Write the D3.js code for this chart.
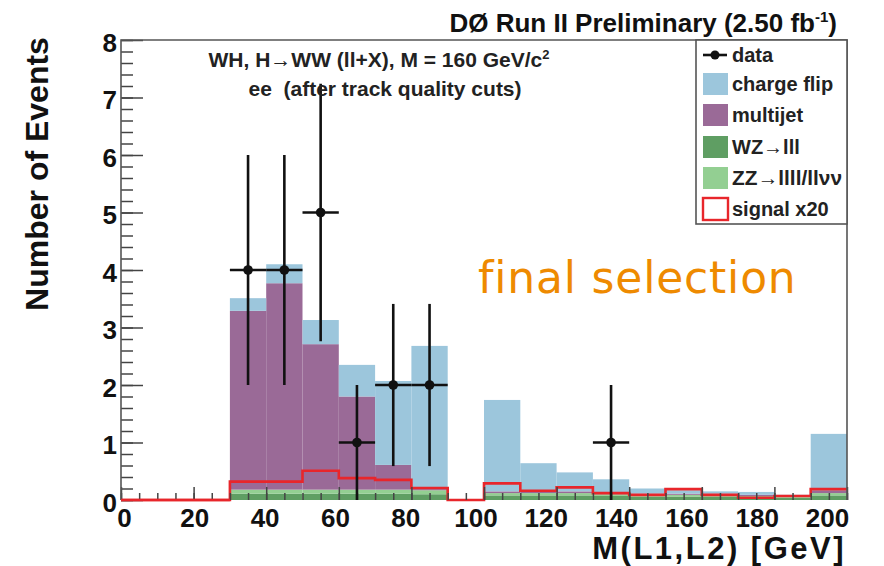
<!DOCTYPE html>
<html>
<head>
<meta charset="utf-8">
<script src="https://cdn.jsdelivr.net/npm/d3@7/dist/d3.min.js"></script>
<style>
  html, body { margin: 0; padding: 0; background: #fff; }
  svg { display: block; }
</style>
</head>
<body>
<svg id="chart" width="884" height="566"></svg>
<script>
// ---- data ----
const binLow = [0,10,20,30,40,50,60,70,80,90,100,110,120,130,140,150,160,170,180,190];
const binWidth = 10;
const wz       = [0,0,0,0.11,0.11,0.11,0.11,0.11,0.10,0, 0.08,0.08,0.08,0.07,0.06,0.06,0.06,0.05,0.04,0.08];
const zz       = [0,0,0,0.07,0.07,0.07,0.07,0.07,0.07,0, 0.04,0.04,0.04,0.03,0.03,0.03,0.03,0.02,0.02,0.04];
const multijet = [0,0,0,3.11,3.59,2.53,1.62,0.43,0.02,0, 0.03,0.03,0.03,0.03,0.02,0.02,0.02,0.02,0.01,0.05];
const chargeFlip=[0,0,0,0.22,0.33,0.42,0.55,1.46,2.49,0, 1.59,0.49,0.33,0.23,0.09,0.06,0.04,0.05,0.02,0.98];
const signal   = [0,0,0,0.32,0.32,0.51,0.38,0.35,0.21,0, 0.29,0.16,0.22,0.12,0.09,0.19,0.09,0.04,0.07,0.19];
const dataX   = [35,45,55,65,75,85,135];
const dataY   = [4,4,5,1,2,2,1];
const dataErr = [2,2,2.24,1,1.41,1.41,1];
const xTicks = [0,20,40,60,80,100,120,140,160,180,200];
const yTicks = [0,1,2,3,4,5,6,7,8];
const legendLabels = ["data","charge flip","multijet","WZ\u2192lll","ZZ\u2192llll/ll\u03BD\u03BD","signal x20"];

// ---- styles ----
const colors = { wz:"#5f9e63", zz:"#93cf92", multijet:"#9a6a97", chargeFlip:"#9cc6dc", signal:"#e8262b" };
const FONT = "Liberation Sans, Arial, sans-serif";
const svg = d3.select("#chart");
const x = d3.scaleLinear().domain([0,200]).range([121,847]);
const y = d3.scaleLinear().domain([0,8]).range([500,40]);
const xLab = d3.scaleLinear().domain([0,200]).range([124,827]);

// stacked histogram
const layers = [
  {key:"wz", vals:wz},
  {key:"zz", vals:zz},
  {key:"multijet", vals:multijet},
  {key:"chargeFlip", vals:chargeFlip}
];
const cum = binLow.map(() => 0);
const g = svg.append("g");
layers.forEach(L => {
  binLow.forEach((b,i) => {
    const v = L.vals[i];
    if (v <= 0) return;
    const y0 = cum[i], y1 = cum[i] + v;
    g.append("rect")
      .attr("x", x(b)).attr("width", x(b+binWidth) - x(b))
      .attr("y", y(y1)).attr("height", y(y0) - y(y1))
      .attr("fill", colors[L.key]);
    cum[i] = y1;
  });
});

// signal step line
const pts = [];
binLow.forEach((b,i) => { pts.push([b, signal[i]]); pts.push([b+binWidth, signal[i]]); });
svg.append("path")
  .attr("d", d3.line().x(d => x(d[0])).y(d => y(d[1]))(pts))
  .attr("fill","none").attr("stroke", colors.signal).attr("stroke-width", 2.6);

// axes ticks (inside)
const tickCol = "#444";
const yMinor = d3.range(0, 8.001, 0.2);
svg.append("g").attr("transform","translate(121,0)")
  .call(d3.axisRight(y).tickValues(yMinor).tickSize(12).tickFormat(""))
  .call(s => s.select(".domain").remove());
svg.append("g").attr("transform","translate(121,0)")
  .call(d3.axisRight(y).tickValues(yTicks).tickSize(22).tickFormat(""))
  .call(s => s.select(".domain").remove());
const xMinor = d3.range(0, 200.001, 5);
svg.append("g").attr("transform","translate(0,500)")
  .call(d3.axisTop(x).tickValues(xMinor).tickSize(7).tickFormat(""))
  .call(s => s.select(".domain").remove());
svg.append("g").attr("transform","translate(0,500)")
  .call(d3.axisTop(x).tickValues(xTicks).tickSize(13).tickFormat(""))
  .call(s => s.select(".domain").remove());
svg.selectAll(".tick line").attr("stroke", tickCol).attr("stroke-width", 1.5);

// tick labels
const yl = svg.append("g").attr("transform","translate(119,3)")
  .call(d3.axisLeft(y).tickValues(yTicks).tickSize(0).tickPadding(2).tickFormat(d3.format("d")));
yl.select(".domain").remove();
const xl = svg.append("g").attr("transform","translate(0,498)")
  .call(d3.axisBottom(xLab).tickValues(xTicks).tickSize(0).tickPadding(11).tickFormat(d3.format("d")));
xl.select(".domain").remove();
svg.selectAll(".tick text").attr("font-family",FONT)
  .attr("font-weight","bold").attr("font-size", 26).attr("fill","#111");

// frame
svg.append("path")
  .attr("d", `M${x(0)},${y(0)}V${y(8)}H${x(200)}V${y(0)}`)
  .attr("fill","none").attr("stroke","#555").attr("stroke-width",1.6);
svg.append("line").attr("x1",x(0)).attr("x2",x(30)).attr("y1",y(0)).attr("y2",y(0))
  .attr("stroke", colors.signal).attr("stroke-width", 2.6);

// data points
const dg = svg.append("g");
dataX.forEach((dx,i) => {
  dg.append("line").attr("x1",x(dx)).attr("x2",x(dx))
    .attr("y1",y(Math.max(0,dataY[i]-dataErr[i]))).attr("y2",y(dataY[i]+dataErr[i]))
    .attr("stroke","#111").attr("stroke-width",2.6);
  dg.append("line").attr("x1",x(dx-5)).attr("x2",x(dx+5))
    .attr("y1",y(dataY[i])).attr("y2",y(dataY[i]))
    .attr("stroke","#111").attr("stroke-width",2.6);
  dg.append("circle").attr("cx",x(dx)).attr("cy",y(dataY[i])).attr("r",4.8).attr("fill","#111");
});

// legend
const lg = svg.append("g");
lg.append("rect").attr("x",696).attr("y",40).attr("width",151).attr("height",184)
  .attr("fill","#fff").attr("stroke","#555").attr("stroke-width",1.6);
const rowY = [55, 84, 115, 147, 178, 209];
const legFill = [null, colors.chargeFlip, colors.multijet, colors.wz, colors.zz, "#fff"];
legendLabels.forEach((t,i) => {
  const cy = rowY[i];
  if (i === 0) {
    lg.append("line").attr("x1",703).attr("x2",727).attr("y1",cy).attr("y2",cy)
      .attr("stroke","#111").attr("stroke-width",2.6);
    lg.append("circle").attr("cx",715).attr("cy",cy).attr("r",4.5).attr("fill","#111");
  } else {
    lg.append("rect").attr("x",703).attr("y",cy-11).attr("width",25).attr("height",22)
      .attr("fill",legFill[i])
      .attr("stroke", i === 5 ? colors.signal : "none").attr("stroke-width", 2.4);
  }
  const tx = lg.append("text").attr("x",732).attr("y",cy+7).text(t)
    .attr("font-family",FONT).attr("font-weight","bold")
    .attr("font-size", 20).attr("fill","#222");
  if (i === 4) tx.attr("textLength",110).attr("lengthAdjust","spacingAndGlyphs");
});

// titles
const title = svg.append("text").attr("x",837).attr("y",32).attr("text-anchor","end")
  .attr("font-family",FONT).attr("font-weight","bold")
  .attr("font-size",26).attr("fill","#111");
title.append("tspan").text("D\u00D8 Run II Preliminary (2.50 fb");
title.append("tspan").attr("dy",-10).attr("font-size",15).text("-1");
title.append("tspan").attr("dy",10).text(")");

svg.append("text").attr("transform","translate(48,174) rotate(-90)")
  .attr("text-anchor","middle")
  .attr("font-family",FONT).attr("font-weight","bold")
  .attr("font-size",32).attr("fill","#111").text("Number of Events");

svg.append("text").attr("x",846).attr("y",559).attr("text-anchor","end")
  .attr("font-family",FONT).attr("font-weight","bold")
  .attr("font-size",31).attr("letter-spacing",2.5).attr("fill","#111").text("M(L1,L2) [GeV]");

// annotation
const ann = svg.append("text").attr("x",379).attr("y",67).attr("text-anchor","middle")
  .attr("font-family",FONT).attr("font-weight","bold")
  .attr("font-size",21).attr("fill","#222");
ann.append("tspan").text("WH, H\u2192WW (ll+X), M = 160 GeV/c");
ann.append("tspan").attr("dy",-8).attr("font-size",13).text("2");
svg.append("text").attr("x",385).attr("y",96).attr("text-anchor","middle")
  .attr("font-family",FONT).attr("font-weight","bold")
  .attr("font-size",21).attr("fill","#222").attr("xml:space","preserve")
  .text("ee  (after track quality cuts)");

// overlay label
svg.append("text").attr("x",478).attr("y",293)
  .attr("font-family","DejaVu Sans, sans-serif").attr("font-size",44)
  .attr("letter-spacing",0.8)
  .attr("fill","#ee8a00").text("final selection");
</script>
</body>
</html>
